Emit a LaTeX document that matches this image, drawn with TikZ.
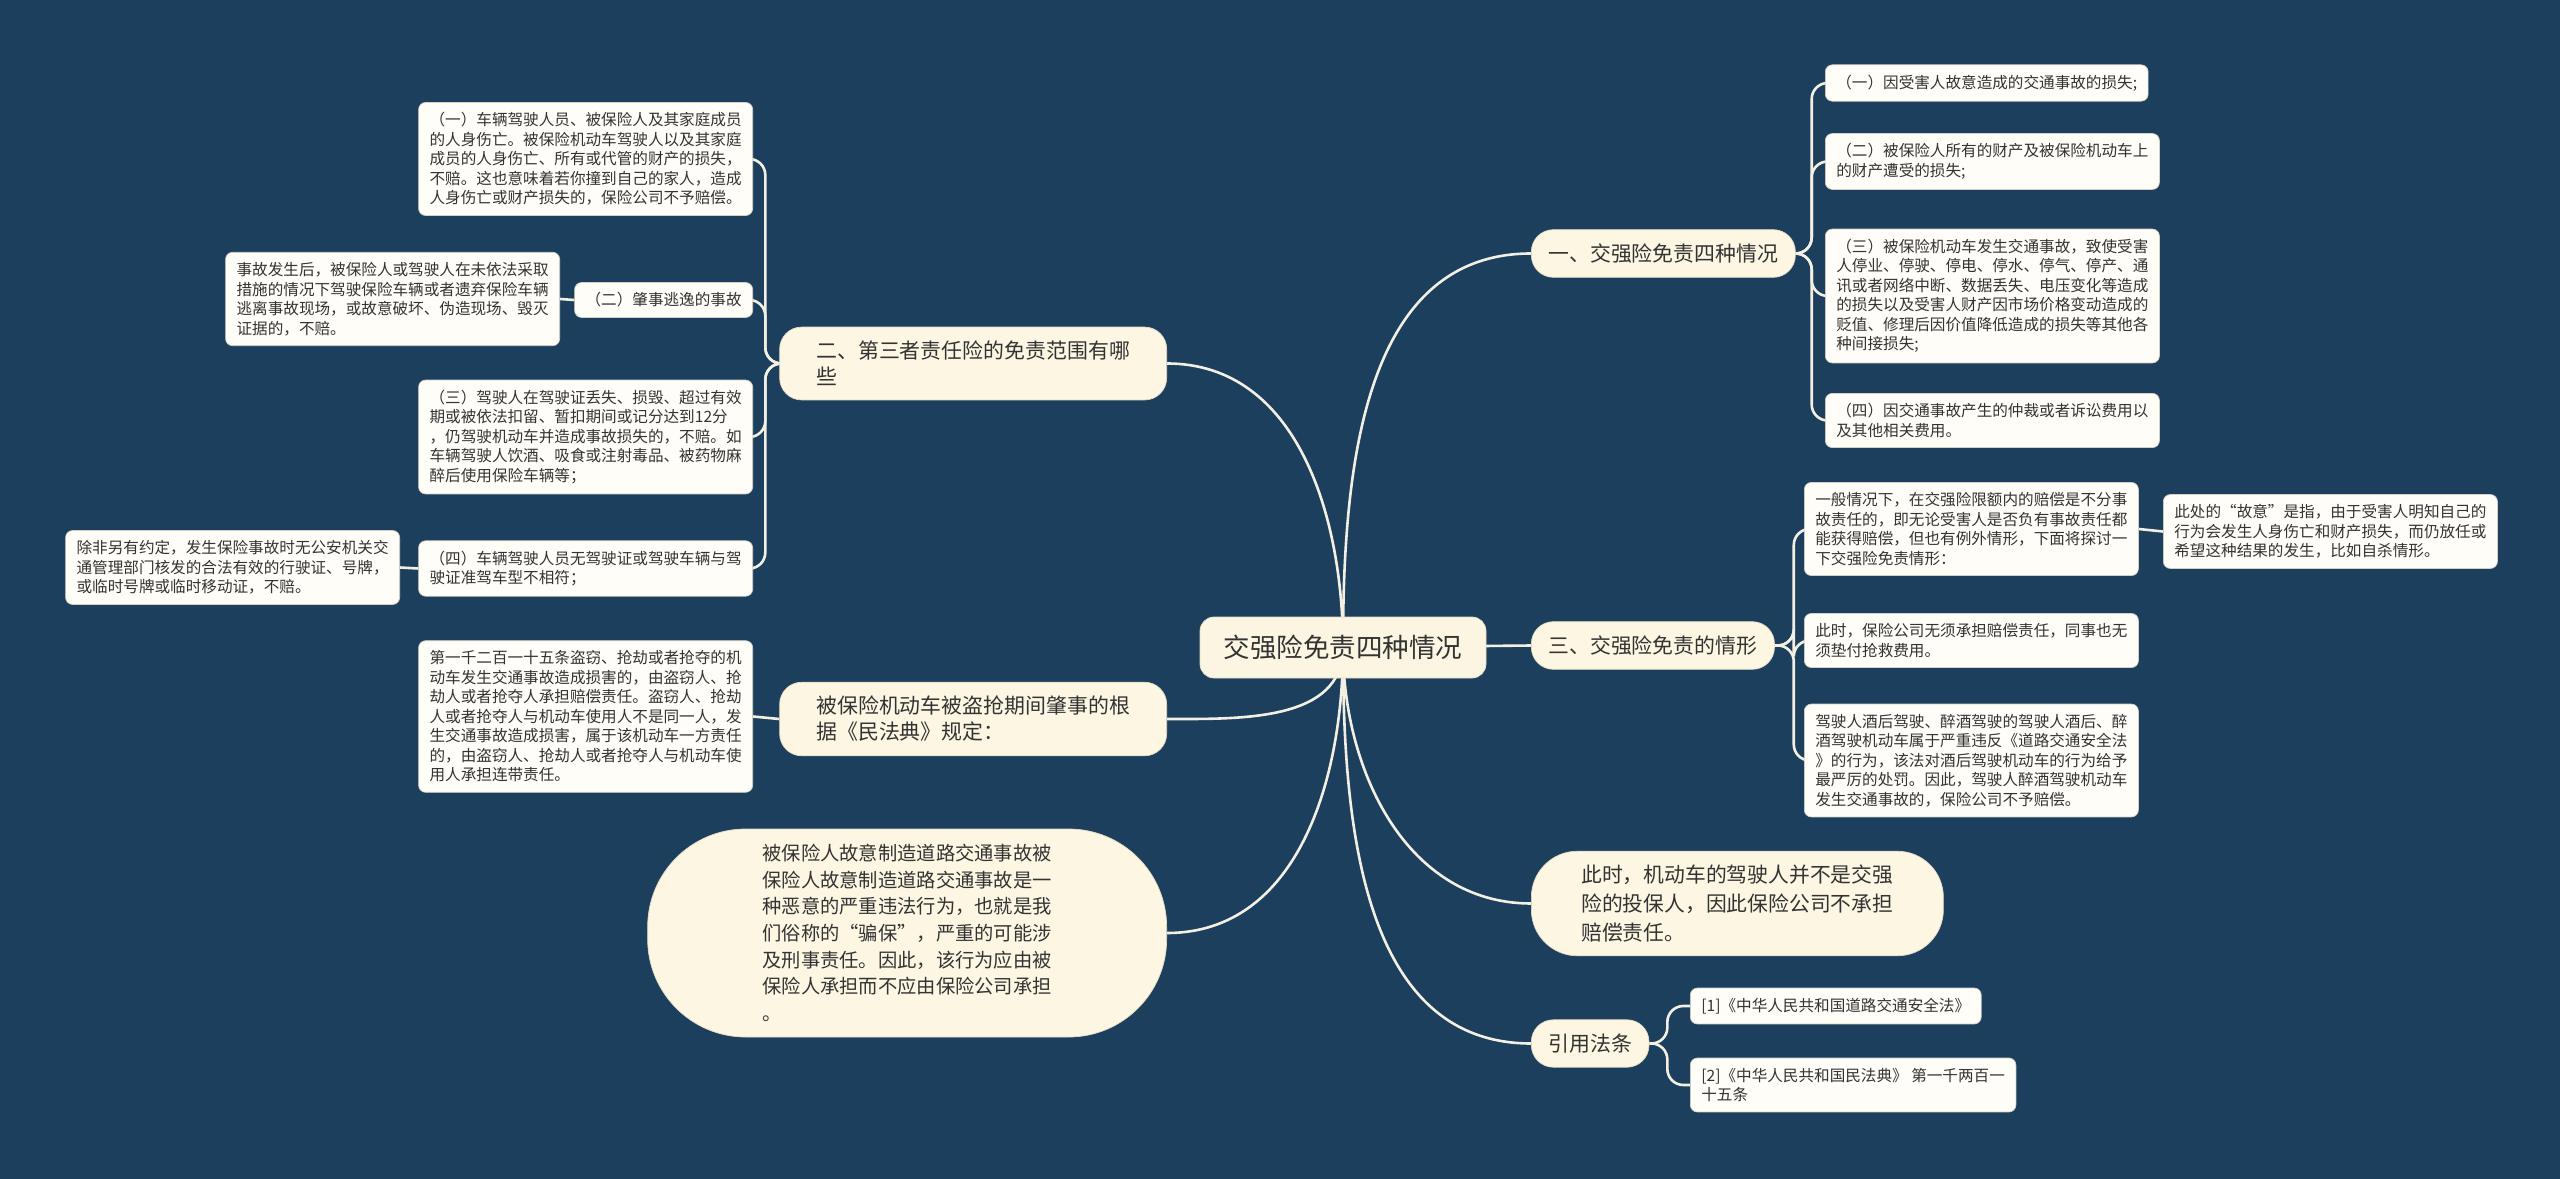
\documentclass[tikz,border=0pt]{standalone}
\usepackage{fontspec}
\newfontfamily\cjk{Noto Sans CJK SC}
\usetikzlibrary{positioning}
\definecolor{navy}{HTML}{1C3F5E}
\definecolor{rootfill}{HTML}{FBF5E2}
\definecolor{branchfill}{HTML}{FCF6E3}
\definecolor{leaffill}{HTML}{FFFDF8}
\definecolor{ink}{HTML}{333333}
\definecolor{linkcol}{HTML}{F4EFE3}
\definecolor{leafline}{HTML}{D5D0C2}
\definecolor{nodeline}{HTML}{E3DBC2}
\newlength\pxu
\setlength\pxu{0.02cm}
\pgfdeclarelayer{bg}
\pgfdeclarelayer{wires}
\pgfsetlayers{bg,wires,main}

\begin{document}
\begin{tikzpicture}[x=0.02cm, y=-0.02cm]
		\tikzset{
			root/.style={draw=nodeline, fill=rootfill, rounded corners=14\pxu, minimum width=286\pxu, minimum height=61\pxu, inner sep=0pt, text=ink, font=\cjk\fontsize{15.1pt}{18pt}\selectfont},
			branch/.style={draw=nodeline, fill=branchfill, rounded corners=22\pxu, inner xsep=17\pxu, inner ysep=14\pxu, align=left, text=ink, font=\cjk\fontsize{11.9pt}{14.8pt}\selectfont},
			leaf/.style={draw=leafline, fill=leaffill, rounded corners=7\pxu, inner xsep=11\pxu, inner ysep=10\pxu, align=left, text=ink, font=\cjk\fontsize{8.88pt}{11.1pt}\selectfont},
			link/.style={draw=linkcol, line width=2.6\pxu},
			trunk/.style={link, rounded corners=16\pxu},
		}
		\useasboundingbox (0,0) rectangle (2560,1179);
		\begin{pgfonlayer}{bg}
			\fill[navy] (0,0) rectangle (2560,1179);
		\end{pgfonlayer}
		
		% centre
		\node[root] (root) at (1343,647.5) {交强险免责四种情况};
		
		% right side
		\node[branch, anchor=west] (r1) at (1531,253.5) {一、交强险免责四种情况};
		\node[branch, anchor=west] (r2) at (1531,645.5) {三、交强险免责的情形};
		\node[branch, anchor=west, rounded corners=46\pxu, minimum width=412\pxu, minimum height=103\pxu, font=\cjk\fontsize{11.84pt}{16.27pt}\selectfont] (r3) at (1531,903.5) {此时，机动车的驾驶人并不是交强\\险的投保人，因此保险公司不承担\\赔偿责任。};
		\node[branch, anchor=west] (r4) at (1531,1043.5) {引用法条};
		
		\node[leaf, anchor=west] (rl1) at (1825,83) {（一）因受害人故意造成的交通事故的损失;};
		\node[leaf, anchor=west] (rl2) at (1825,161.5) {（二）被保险人所有的财产及被保险机动车上\\的财产遭受的损失;};
		\node[leaf, anchor=west] (rl3) at (1825,296) {（三）被保险机动车发生交通事故，致使受害\\人停业、停驶、停电、停水、停气、停产、通\\讯或者网络中断、数据丢失、电压变化等造成\\的损失以及受害人财产因市场价格变动造成的\\贬值、修理后因价值降低造成的损失等其他各\\种间接损失;};
		\node[leaf, anchor=west] (rl4) at (1825,420.5) {（四）因交通事故产生的仲裁或者诉讼费用以\\及其他相关费用。};
		
		\node[leaf, anchor=west] (rm1) at (1804,529) {一般情况下，在交强险限额内的赔偿是不分事\\故责任的，即无论受害人是否负有事故责任都\\能获得赔偿，但也有例外情形，下面将探讨一\\下交强险免责情形：};
		\node[leaf, anchor=west] (rm1a) at (2163,531.5) {此处的“故意”是指，由于受害人明知自己的\\行为会发生人身伤亡和财产损失，而仍放任或\\希望这种结果的发生，比如自杀情形。};
		\node[leaf, anchor=west] (rm2) at (1804,640.5) {此时，保险公司无须承担赔偿责任，同事也无\\须垫付抢救费用。};
		\node[leaf, anchor=west] (rm3) at (1804,760.5) {驾驶人酒后驾驶、醉酒驾驶的驾驶人酒后、醉\\酒驾驶机动车属于严重违反《道路交通安全法\\》的行为，该法对酒后驾驶机动车的行为给予\\最严厉的处罚。因此，驾驶人醉酒驾驶机动车\\发生交通事故的，保险公司不予赔偿。};
		
		\node[leaf, anchor=west] (rc1) at (1690,1006) {[1]《中华人民共和国道路交通安全法》};
		\node[leaf, anchor=west] (rc2) at (1690,1085) {[2]《中华人民共和国民法典》 第一千两百一\\十五条};
		
		% left side
		\node[branch, anchor=east, minimum width=387\pxu] (l1) at (1167,363.5) {二、第三者责任险的免责范围有哪\\些};
		\node[branch, anchor=east, minimum width=387\pxu] (l2) at (1167,719) {被保险机动车被盗抢期间肇事的根\\据《民法典》规定：};
		\node[branch, anchor=east, rounded corners=98\pxu, minimum width=519\pxu, minimum height=208\pxu, font=\cjk\fontsize{10.98pt}{15.19pt}\selectfont] (l3) at (1167,933) {被保险人故意制造道路交通事故被\\保险人故意制造道路交通事故是一\\种恶意的严重违法行为，也就是我\\们俗称的“骗保”，严重的可能涉\\及刑事责任。因此，该行为应由被\\保险人承担而不应由保险公司承担\\。};
		
		\node[leaf, anchor=east] (ll1) at (753,159) {（一）车辆驾驶人员、被保险人及其家庭成员\\的人身伤亡。被保险机动车驾驶人以及其家庭\\成员的人身伤亡、所有或代管的财产的损失，\\不赔。这也意味着若你撞到自己的家人，造成\\人身伤亡或财产损失的，保险公司不予赔偿。};
		\node[leaf, anchor=east] (ll2) at (753,300) {（二）肇事逃逸的事故};
		\node[leaf, anchor=east] (ll2a) at (560,299) {事故发生后，被保险人或驾驶人在未依法采取\\措施的情况下驾驶保险车辆或者遗弃保险车辆\\逃离事故现场，或故意破坏、伪造现场、毁灭\\证据的，不赔。};
		\node[leaf, anchor=east] (ll3) at (753,437) {（三）驾驶人在驾驶证丢失、损毁、超过有效\\期或被依法扣留、暂扣期间或记分达到12分\\，仍驾驶机动车并造成事故损失的，不赔。如\\车辆驾驶人饮酒、吸食或注射毒品、被药物麻\\醉后使用保险车辆等；};
		\node[leaf, anchor=east] (ll4) at (753,568.5) {（四）车辆驾驶人员无驾驶证或驾驶车辆与驾\\驶证准驾车型不相符；};
		\node[leaf, anchor=east] (ll4a) at (400,567.5) {除非另有约定，发生保险事故时无公安机关交\\通管理部门核发的合法有效的行驶证、号牌，\\或临时号牌或临时移动证，不赔。};
		
		\node[leaf, anchor=east] (lm1) at (753,716.5) {第一千二百一十五条盗窃、抢劫或者抢夺的机\\动车发生交通事故造成损害的，由盗窃人、抢\\劫人或者抢夺人承担赔偿责任。盗窃人、抢劫\\人或者抢夺人与机动车使用人不是同一人，发\\生交通事故造成损害，属于该机动车一方责任\\的，由盗窃人、抢劫人或者抢夺人与机动车使\\用人承担连带责任。};
		
		\begin{pgfonlayer}{wires}
			% from the centre
			\draw[link] (root.center) to[out=90,in=180] (r1.west);
			\draw[link] (root.center) -- (r2.west);
			\draw[link] (root.center) to[out=-90,in=180] (r3.west);
			\draw[link] (root.center) to[out=-90,in=180] (r4.west);
			\draw[link] (root.center) to[out=90,in=0] (l1.east);
			\draw[link] (root.center) to[out=-90,in=0] (l2.east);
			\draw[link] (root.center) to[out=-90,in=0] (l3.east);
			
			% leaves
			\foreach \n in {rl1,rl2,rl3,rl4}
				\draw[trunk] (r1.east) -- ++(16,0) |- (\n.west);
			\foreach \n in {rm1,rm2,rm3}
				\draw[trunk] (r2.east) -- ++(19,0) |- (\n.west);
			\foreach \n in {rc1,rc2}
				\draw[trunk] (r4.east) -- ++(18,0) |- (\n.west);
			\foreach \n in {ll1,ll2,ll3,ll4}
				\draw[trunk] (l1.west) -- ++(-14,0) |- (\n.east);
			\draw[link] (l2.west) -- (lm1.east);
			\draw[link] (ll2.west) -- (ll2a.east);
			\draw[link] (ll4.west) -- (ll4a.east);
			\draw[link] (rm1.east) -- (rm1a.west);
		\end{pgfonlayer}
	\end{tikzpicture}
\end{document}
